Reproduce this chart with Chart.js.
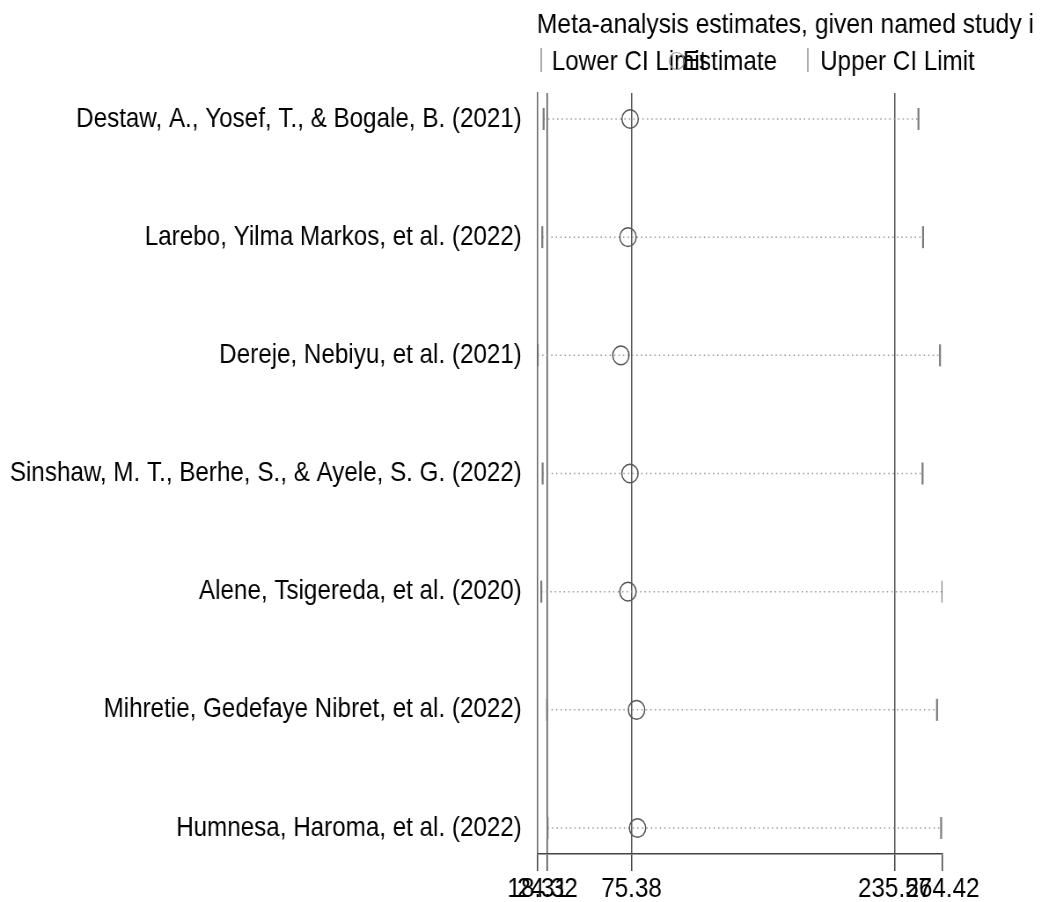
<!DOCTYPE html>
<html>
<head>
<meta charset="utf-8">
<script src="https://cdn.jsdelivr.net/npm/chart.js@4.4.1/dist/chart.umd.min.js"></script>
<style>
html, body { margin: 0; padding: 0; background: #fff; overflow: hidden; }
#wrap { width: 1041px; height: 902px; overflow: hidden; }
/* the reference is squeezed sideways, so draw wider and squeeze back */
#myChart { transform: scaleX(0.88); transform-origin: 0 0; }
</style>
</head>
<body>
<div id="wrap"><canvas id="myChart" width="1183" height="902"></canvas></div>
<script>
const studies = [
    "Destaw, A., Yosef, T., & Bogale, B. (2021)",
    "Larebo, Yilma Markos, et al. (2022)",
    "Dereje, Nebiyu, et al. (2021)",
    "Sinshaw, M. T., Berhe, S., & Ayele, S. G. (2022)",
    "Alene, Tsigereda, et al. (2020)",
    "Mihretie, Gedefaye Nibret, et al. (2022)",
    "Humnesa, Haroma, et al. (2022)"
];
const lowerCI = [21.9, 21.1, 18.31, 21.3, 20.5, 24.0, 24.3];
const estimates = [74.5, 73.2, 68.9, 74.4, 73.2, 78.4, 79.0];
const upperCI = [249.8, 252.6, 262.9, 252.3, 264.42, 261.1, 263.6];
const xTicks = [18.31, 24.32, 75.38, 235.57, 264.42];
const xTickLabels = ["18.31", "24.32", "75.38", "235.57", "264.42"];
const titleText = "Meta-analysis estimates, given named study i";
const legendLabels = ["Lower CI Limit", "Estimate", "Upper CI Limit"];

const FONT = '"Liberation Sans", Arial, sans-serif';
const chart = document.querySelector('#myChart');

const rows = studies.map((s, i) => i + 1);
const barStyle = { pointStyle: 'line', rotation: 90, radius: 11, borderWidth: 2.2, borderColor: '#7a7a7a' };
const circleStyle = { pointStyle: 'circle', radius: 9.3, borderWidth: 1.5, borderColor: '#555', backgroundColor: 'rgba(0,0,0,0)' };

// dotted CI lines, broken between studies
const ciLine = [];
rows.forEach((r, i) => {
    ciLine.push({ x: lowerCI[i], y: r });
    ciLine.push({ x: upperCI[i], y: r });
    ciLine.push({ x: upperCI[i], y: null });
});

const header = {
    id: 'header',
    afterDraw(c) {
        const ctx = c.ctx;
        const left = c.chartArea.left;
        ctx.save();
        ctx.fillStyle = '#000';
        ctx.textBaseline = 'alphabetic';
        ctx.font = '28px ' + FONT;
        ctx.fillText(titleText, left - 1, 33);
        ctx.font = '27.5px ' + FONT;
        const ly = 70;
        ctx.strokeStyle = '#999';
        ctx.lineWidth = 1.6;
        ctx.beginPath(); ctx.moveTo(left + 4, ly - 22); ctx.lineTo(left + 4, ly + 2); ctx.stroke();
        ctx.fillText(legendLabels[0], left + 16, ly);
        ctx.strokeStyle = '#999';
        ctx.lineWidth = 1.2;
        ctx.beginPath(); ctx.arc(left + 158, ly - 9, 8.5, 0, Math.PI * 2); ctx.stroke();
        ctx.fillText(legendLabels[1], left + 165, ly);
        ctx.strokeStyle = '#999';
        ctx.lineWidth = 1.6;
        ctx.beginPath(); ctx.moveTo(left + 307, ly - 22); ctx.lineTo(left + 307, ly + 2); ctx.stroke();
        ctx.fillText(legendLabels[2], left + 321, ly);
        ctx.restore();
    }
};

const myChart = new Chart(chart, {
    type: 'scatter',
    data: {
        datasets: [
            {
                type: 'line',
                label: 'CI',
                data: ciLine,
                borderColor: '#999',
                borderWidth: 1.5,
                borderDash: [1.5, 3.6],
                pointRadius: 0,
                spanGaps: false,
                order: 3
            },
            Object.assign({ label: legendLabels[0], data: rows.map((r, i) => ({ x: lowerCI[i], y: r })), order: 2 }, barStyle),
            Object.assign({ label: legendLabels[2], data: rows.map((r, i) => ({ x: upperCI[i], y: r })), order: 2 }, barStyle),
            Object.assign({ label: legendLabels[1], data: rows.map((r, i) => ({ x: estimates[i], y: r })), order: 1 }, circleStyle)
        ]
    },
    options: {
        responsive: false,
        animation: false,
        devicePixelRatio: 1,
        layout: { padding: { left: 0, right: 112, top: 93, bottom: 0 } },
        plugins: { legend: { display: false }, tooltip: { enabled: false }, title: { display: false } },
        scales: {
            x: {
                type: 'linear',
                min: 18.31,
                max: 264.42,
                afterBuildTicks: s => { s.ticks = xTicks.map(v => ({ value: v })); },
                afterFit: s => { s.height = 48; },
                ticks: {
                    autoSkip: false,
                    maxRotation: 0,
                    padding: 2,
                    color: '#000',
                    font: { family: FONT, size: 27.5 },
                    callback: (v, i) => xTickLabels[i]
                },
                grid: {
                    color: ctx => (ctx.index >= 1 && ctx.index <= 3) ? '#555' : 'rgba(0,0,0,0)',
                    tickColor: '#444',
                    tickLength: 17,
                    lineWidth: 1.5
                },
                border: { color: '#444', width: 1.5 }
            },
            y: {
                type: 'linear',
                min: 0.78,
                max: 7.22,
                reverse: true,
                afterBuildTicks: s => { s.ticks = rows.map(v => ({ value: v })); },
                afterFit: s => { s.width = 611; },
                ticks: {
                    autoSkip: false,
                    padding: 18,
                    color: '#000',
                    font: { family: FONT, size: 27.5 },
                    callback: v => studies[v - 1]
                },
                grid: { drawOnChartArea: false, drawTicks: false },
                border: { color: '#666', width: 1.5 }
            }
        }
    },
    plugins: [header]
});
</script>
</body>
</html>
